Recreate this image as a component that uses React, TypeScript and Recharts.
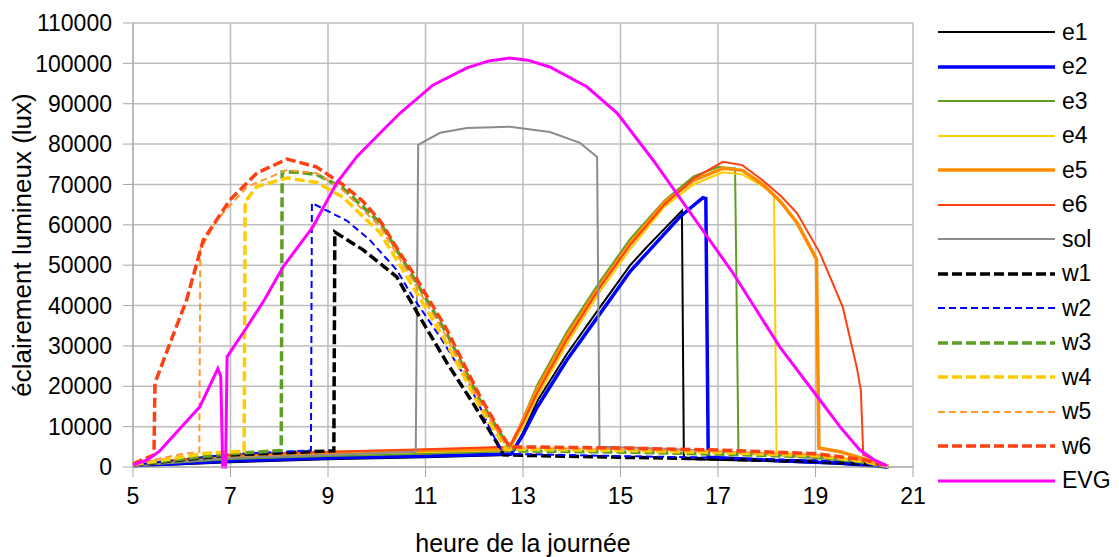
import { LineChart, Line, XAxis, YAxis, CartesianGrid, Legend, Label } from 'recharts';

const FONT = '"Liberation Sans", Arial, sans-serif';

const hourTicks = [5, 7, 9, 11, 13, 15, 17, 19, 21];
const luxTicks = [0, 10000, 20000, 30000, 40000, 50000, 60000, 70000, 80000, 90000, 100000, 110000];

type Pt = [number, number];

// east facades (afternoon sun)
const e1: Pt[] = [[5, 200], [7, 1200], [9, 1900], [11, 2400], [12.74, 3000], [13.0, 8500], [13.3, 16500], [13.9, 28000], [14.58, 39600], [15.2, 50000], [15.54, 54500], [15.9, 59000], [16.26, 63500], [16.3, 2000], [18, 1500], [19.5, 800], [20.5, 0]];
const e2: Pt[] = [[5, 300], [7, 1500], [9, 2200], [11, 2700], [12.76, 3200], [13.0, 8000], [13.3, 15000], [13.9, 26500], [14.58, 38000], [15.2, 48500], [15.54, 53000], [16.22, 62000], [16.69, 66700], [16.75, 66500], [16.8, 2400], [18, 1700], [19.5, 900], [20.5, 0]];
const e3: Pt[] = [[5, 400], [7, 2000], [9, 2700], [11, 3300], [12.72, 3900], [13.0, 12000], [13.3, 20500], [13.9, 33500], [14.58, 46000], [15.2, 56500], [15.9, 66000], [16.5, 72000], [17.0, 74300], [17.35, 74000], [17.42, 3500], [18.5, 2900], [19.5, 1800], [20.5, 100]];
const e4: Pt[] = [[5, 500], [7, 2400], [9, 3100], [11, 3700], [12.72, 4200], [13.0, 10000], [13.3, 17500], [13.9, 30500], [14.58, 43500], [15.2, 54000], [15.9, 64500], [16.5, 70000], [17.1, 73000], [17.5, 72500], [17.92, 69500], [18.15, 67500], [18.2, 3600], [19, 3000], [20, 1500], [20.5, 100]];
const e5: Pt[] = [[5, 500], [7, 2800], [9, 3500], [11, 4100], [12.72, 4600], [13.0, 11500], [13.3, 19500], [13.9, 32500], [14.58, 45000], [15.2, 55500], [15.9, 65500], [16.5, 71000], [17.1, 74000], [17.5, 73500], [17.92, 70000], [18.3, 65500], [18.62, 60500], [19.02, 51500], [19.07, 4700], [19.5, 3800], [20, 2000], [20.5, 150]];
const e6: Pt[] = [[5, 600], [7, 3100], [9, 3800], [11, 4400], [12.72, 5000], [13.0, 11000], [13.3, 18500], [13.9, 31500], [14.58, 44500], [15.2, 55000], [15.9, 65000], [16.5, 71500], [17.1, 75600], [17.5, 74800], [17.92, 71000], [18.3, 67000], [18.62, 62900], [19.09, 53000], [19.56, 39600], [19.85, 24500], [19.93, 19000], [19.98, 3000], [20.5, 200]];

const sol: Pt[] = [[5, 400], [7, 2200], [9, 3000], [10.8, 3800], [10.85, 79800], [11.3, 82800], [11.85, 84000], [12.73, 84300], [13.55, 83000], [14.17, 80300], [14.52, 76800], [14.57, 5000], [15.5, 4700], [16.5, 4200], [18, 3200], [19.5, 1700], [20.5, 0]];

// west facades (morning sun)
const w1: Pt[] = [[5, 500], [7, 3000], [9.12, 4000], [9.14, 58200], [9.72, 53800], [10.41, 47100], [10.88, 37200], [11.44, 25800], [11.97, 15900], [12.47, 5900], [12.6, 3000], [15, 2400], [17, 2000], [19, 1400], [20, 700], [20.5, 0]];
const w2: Pt[] = [[5, 500], [7, 3200], [8.65, 4100], [8.67, 65400], [9.39, 61000], [9.86, 56200], [10.41, 48800], [10.74, 42100], [11.3, 32200], [11.85, 21600], [12.47, 5900], [12.6, 3300], [15, 2700], [17, 2300], [19, 1600], [20, 800], [20.5, 0]];
const w3: Pt[] = [[5, 600], [7, 3300], [8.04, 4100], [8.06, 73100], [8.4, 73000], [8.77, 72500], [9.31, 69000], [10.07, 60500], [10.45, 53000], [10.8, 46000], [11.44, 33000], [12.12, 16500], [12.7, 5000], [12.85, 4000], [15, 3700], [17, 3200], [19, 2500], [20, 1200], [20.5, 100]];
const w4: Pt[] = [[5, 600], [6.5, 3400], [7.28, 3900], [7.3, 65700], [7.54, 69500], [8.16, 71600], [8.77, 70500], [9.31, 66800], [10.07, 58000], [10.45, 50500], [10.8, 43500], [11.44, 30500], [12.12, 14800], [12.65, 4500], [12.85, 4400], [15, 4100], [17, 3600], [19, 2800], [20, 1400], [20.5, 100]];
const w5: Pt[] = [[5, 700], [6, 3200], [6.36, 3800], [6.38, 53800], [6.72, 61200], [7.34, 69400], [8.16, 73600], [8.77, 72800], [9.31, 68500], [10.07, 59500], [10.45, 52000], [10.8, 45000], [11.44, 32000], [12.12, 15800], [12.68, 4800], [12.85, 4800], [15, 4400], [17, 3900], [19, 3000], [20, 1600], [20.5, 150]];
const w6: Pt[] = [[5, 800], [5.43, 3000], [5.45, 20800], [5.76, 30700], [6.1, 41400], [6.44, 56200], [6.99, 66200], [7.54, 72800], [8.16, 76300], [8.77, 74300], [9.3, 70000], [9.7, 66000], [10.07, 61000], [10.45, 53500], [10.8, 47000], [11.44, 34000], [12.12, 17400], [12.67, 6000], [12.8, 5000], [15, 4700], [17, 4200], [19, 3300], [20, 1800], [20.5, 200]];

const evg: Pt[] = [[5, 500], [5.3, 1800], [5.55, 4000], [5.96, 9500], [6.37, 14900], [6.74, 24400], [6.8, 22500], [6.84, 0], [6.9, 0], [6.93, 27300], [7.3, 34000], [7.7, 41500], [8.08, 49600], [8.69, 59500], [9.18, 70400], [9.6, 77000], [10.13, 83500], [10.48, 87700], [11.15, 94600], [11.85, 98900], [12.3, 100600], [12.73, 101300], [13.1, 100800], [13.55, 99100], [14.31, 94200], [14.93, 87700], [15.67, 76000], [16.49, 62000], [17.31, 48000], [18.27, 29700], [19.09, 16600], [19.5, 10000], [19.91, 4200], [20.2, 1800], [20.47, 200]];

const series = [
  { name: 'e1', points: e1, color: '#000000', width: 2, dash: undefined },
  { name: 'e2', points: e2, color: '#0000FF', width: 3.5, dash: undefined },
  { name: 'e3', points: e3, color: '#5E9E25', width: 2, dash: undefined },
  { name: 'e4', points: e4, color: '#FFCC00', width: 2, dash: undefined },
  { name: 'e5', points: e5, color: '#FF8C00', width: 3.5, dash: undefined },
  { name: 'e6', points: e6, color: '#FF4010', width: 2, dash: undefined },
  { name: 'sol', points: sol, color: '#8C8C8C', width: 2, dash: undefined },
  { name: 'w1', points: w1, color: '#000000', width: 3.5, dash: '10 4' },
  { name: 'w2', points: w2, color: '#0000FF', width: 2, dash: '7 4' },
  { name: 'w3', points: w3, color: '#5E9E25', width: 3.5, dash: '10 4' },
  { name: 'w4', points: w4, color: '#FFCC00', width: 3.5, dash: '10 4' },
  { name: 'w5', points: w5, color: '#FF9A30', width: 2, dash: '7 4' },
  { name: 'w6', points: w6, color: '#FF4010', width: 3.5, dash: '10 4' },
  { name: 'EVG', points: evg, color: '#FF00FF', width: 3, dash: undefined },
];

const seriesOrder = (it: any) => series.findIndex((s) => s.name === it.value);

function LegendBox(props: any) {
  const items = [...(props.payload ?? [])].sort((a: any, b: any) => seriesOrder(a) - seriesOrder(b));
  return (
    <div style={{ fontFamily: FONT, fontSize: 23, color: '#000' }}>
      {items.map((it: any) => {
        const s = series.find((x) => x.name === it.value);
        return (
          <div key={it.value} style={{ height: 34.5, display: 'flex', alignItems: 'center' }}>
            <svg width={124} height={10} style={{ flex: 'none' }}>
              <line x1={0} y1={5} x2={117} y2={5} stroke={it.color} strokeWidth={s?.width ?? 2} strokeDasharray={s?.dash} />
            </svg>
            <span style={{ lineHeight: 1 }}>{it.value}</span>
          </div>
        );
      })}
    </div>
  );
}

export default function App() {
  const axisTick = { fill: '#000', fontSize: 23, fontFamily: FONT };
  return (
    <div style={{ position: 'absolute', left: 0, top: 0, background: '#fff' }}>
      <LineChart width={1119} height={557} margin={{ top: 23, right: 206, bottom: 0, left: 0 }} style={{ fontFamily: FONT }}>
        <CartesianGrid stroke="#BDBDBD" strokeWidth={1.5} />
        <XAxis
          dataKey="h"
          type="number"
          domain={[5, 21]}
          ticks={hourTicks}
          interval={0}
          height={90}
          tick={axisTick}
          tickSize={10}
          tickMargin={11}
          stroke="#A8A8A8"
          allowDuplicatedCategory={false}
        >
          <Label value="heure de la journée" position="insideBottom" offset={5} style={{ fill: '#000', fontSize: 25, fontFamily: FONT }} />
        </XAxis>
        <YAxis
          type="number"
          domain={[0, 110000]}
          ticks={luxTicks}
          interval={0}
          width={133}
          tick={axisTick}
          tickSize={10}
          tickMargin={11}
          stroke="#A8A8A8"
        >
          <Label
            value="éclairement lumineux (lux)"
            angle={-90}
            position="insideLeft"
            offset={22}
            style={{ fill: '#000', fontSize: 26, fontFamily: FONT, textAnchor: 'middle' }}
          />
        </YAxis>
        <Legend
          layout="vertical"
          align="center"
          verticalAlign="middle"
          itemSorter={seriesOrder}
          wrapperStyle={{ left: 938, top: 15, width: 181 }}
          content={<LegendBox />}
        />
        {series.map((s) => (
          <Line
            key={s.name}
            name={s.name}
            data={s.points.map(([h, v]) => ({ h, v }))}
            dataKey="v"
            type="linear"
            stroke={s.color}
            strokeWidth={s.width}
            strokeDasharray={s.dash}
            dot={false}
            activeDot={false}
            isAnimationActive={false}
          />
        ))}
      </LineChart>
    </div>
  );
}
